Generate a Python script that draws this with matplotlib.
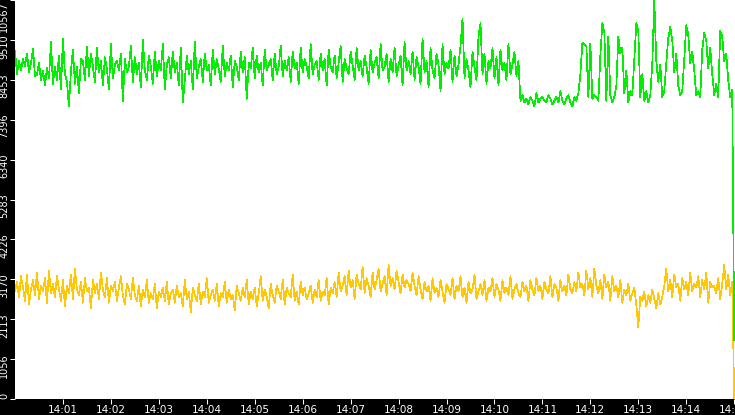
import numpy as np
import pandas as pd
import matplotlib
matplotlib.use('Agg')
from matplotlib import pyplot as plt
from matplotlib import dates as mdates
from matplotlib.transforms import ScaledTranslation

# sampled every 2.5 s starting 14:00:00
START = '2024-01-01 14:00:00'
STEP = '2500ms'

# green series (top band)
green_vals = [
    9220, 8600, 8950, 8700, 9000, 8820, 9150, 8650, 8900, 9280, 8550, 8580, 8900, 8450, 8700, 8300, 8780, 8500, 9450, 8350,
    8800, 8450, 9100, 8200, 9550, 8600, 8400, 7750, 8700, 9250, 8350, 8800, 8100, 9000, 8950, 8450, 9320, 8550, 9150, 8800,
    8400, 9300, 8650, 8950, 8300, 9050, 8750, 8200, 9400, 8500, 8850, 8950, 8700, 9150, 7900, 9000, 8650, 8800, 9350, 8400,
    9050, 8600, 8900, 8250, 9500, 8700, 8450, 9100, 8800, 8350, 9200, 8550, 8950, 8700, 9400, 8200, 8850, 9050, 8500, 9200,
    8650, 8900, 8300, 9300, 7850, 8450, 9100, 8600, 8950, 8200, 9450, 8500, 8800, 9000, 8400, 9150, 8700, 8850, 8300, 9250,
    8600, 9000, 8750, 8400, 9350, 8550, 8900, 8700, 9100, 8250, 8950, 8800, 8450, 9200, 8650, 9050, 7950, 8900, 8750, 9300,
    8500, 9100, 8650, 8900, 8300, 9250, 8700, 8850, 9000, 8450, 9150, 8600, 8800, 9350, 8550, 8950, 8700, 9050, 8400, 9200,
    8750, 8900, 8350, 9300, 8650, 9000, 8800, 8500, 9400, 8600, 8850, 8950, 8450, 9150, 8700, 9000, 8300, 9250, 8800, 8650,
    9100, 8500, 8900, 9350, 8400, 9000, 8750, 8600, 9200, 8850, 8450, 9300, 8700, 8950, 8550, 9100, 8800, 8350, 9250, 8650,
    8900, 9050, 8500, 9400, 8700, 8800, 9150, 8400, 9000, 8650, 9300, 8550, 8850, 9100, 8300, 9450, 8700, 8950, 8600, 9200,
    8450, 9050, 8800, 8350, 9550, 8650, 8950, 8250, 9300, 8700, 8500, 9150, 8850, 8150, 9400, 8600, 8900, 8750, 9250, 8400,
    9100, 8550, 8850, 9350, 10080, 8500, 9000, 8700, 8250, 9200, 8800, 8450, 9600, 9950, 8600, 9150, 8350, 8950, 8750, 9300,
    8500, 9050, 8300, 9250, 8700, 8900, 8450, 9400, 8600, 8850, 9200, 8550, 8950,
    # low flat stretch
    7900, 8050, 7850, 7950, 7800, 8000, 7900, 7750, 8100, 7850, 7950, 8000, 7900, 7850, 8050,
    7950, 7800, 7900, 8000, 7850, 8150, 7900, 7800, 7950, 8050, 7850, 7750, 8000, 7900, 8100,
    # wide swings
    8600, 9430, 9400, 9350, 8000, 9420, 7950, 8050, 8000, 7900, 9100, 9950, 9700, 7900, 9600, 8050, 7850, 8000, 8300, 9600,
    9150, 9300, 8100, 8700, 7850, 8150, 8050, 9000, 9950, 9750, 8000, 8600, 7900, 8150, 7850, 8050, 8900, 10560, 8950, 8400,
    8850, 8000, 8150, 8900, 9550, 9850, 9500, 8650, 9150, 8300, 8050, 8150, 9000, 9900, 9650, 8900, 9200, 8700, 8050, 8150,
    8000, 9250, 9700, 9500, 8750, 9300, 8600, 8050, 8350, 8000, 9750, 9600, 8950, 9150, 8450, 8000, 8200,
    1560,
]

# yellow series (bottom band)
yellow_vals = [
    2850, 3100, 2700, 3250, 2950, 2600, 3300, 2500, 2900, 3150, 2750, 3350, 2650, 3000, 2850, 3200, 2550, 3400, 2800, 3050,
    2700, 3250, 2900, 2600, 3150, 2450, 3000, 2800, 3300, 2650, 3450, 2900, 2750, 3100, 2550, 3200, 2850, 2950, 2400, 3150,
    2800, 3050, 2650, 3350, 2900, 2700, 3200, 2550, 3000, 2850, 3100, 2600, 2950, 3250, 2750, 2500, 3050, 2900, 2650, 3200,
    2750, 2600, 3000, 2450, 2900, 2700, 3150, 2550, 2800, 2650, 3050, 2400, 2850, 2700, 2950, 2600, 3100, 2500, 2800, 2900,
    2550, 3000, 2700, 2800, 2450, 3150, 2650, 2850, 2300, 2950, 2750, 2600, 3050, 2500, 2850, 2700, 3200, 2550, 2750, 2900,
    2600, 3050, 2450, 2800, 2700, 3100, 2550, 2900, 2650, 2750, 2350, 3000, 2800, 2600, 2950, 2700, 3150, 2500, 2850, 2650,
    2950, 2450, 2800, 3250, 2600, 2900, 2700, 2400, 3050, 2750, 2550, 3000, 2850, 2650, 3150, 2500, 2950, 2800, 2700, 3300,
    2600, 2850, 2500, 3100, 2750, 2950, 2650, 2800, 3000, 2550, 2900, 2700, 3150, 2600, 2850, 2750, 3200, 2500, 2950, 2800,
    3100, 2700, 3350, 2850, 3000, 3250, 2750, 3400, 2950, 3150, 2650, 3300, 3050, 2900, 3500, 2800, 3200, 3000, 2700, 3350,
    2900, 3150, 3450, 2850, 3050, 3250, 2750, 3550, 3000, 3200, 2900, 3400, 3100, 2800, 3300, 2950, 3150, 3050, 2850, 3350,
    3000, 2750, 3250, 2900, 2650, 3100, 2850, 3000, 2600, 3200, 2800, 2950, 2700, 3150, 2850, 2550, 3050, 2900, 2750, 3200,
    2650, 3000, 2850, 3250, 2700, 2950, 2550, 3100, 2800, 2900, 3300, 2650, 2850, 3050, 2750, 3150, 2600, 2950, 2850, 3200,
    2700, 3050, 2900, 2600, 3150, 2800, 2950, 2750, 3250, 2650, 2900, 3050, 2800, 2700, 3100, 2850, 3000, 2600, 3150, 2900,
    2750, 3200, 2850, 3000, 2650, 3100, 2900, 2800, 3250, 2700, 3050, 2950, 2600, 3150, 2850, 3000, 2750, 3300, 2900, 2800,
    3100, 2850, 3350, 2950, 3050, 2750, 3400, 2900, 3200, 2700, 3450, 3000, 2800, 3150, 2650, 3300, 2950, 3100, 2600, 3250,
    2850, 3000, 2700, 3150, 2550, 2900, 2750, 3050, 2600, 2800, 2950, 2500, 1900, 2700, 2600, 2850, 2450, 2750, 2550, 2900,
    2650, 2400, 2800, 2500, 2700, 3000, 3450, 2850, 3150, 2700, 3300, 2950, 3050, 2600, 3200, 2900, 3100, 2750, 3350, 2850,
    3050, 2950, 3250, 2700, 3150, 2900, 3350, 2550, 3100, 2950, 3000, 2800, 3200, 2650, 3050, 3550, 2900, 3300, 2750, 3100,
    0,
]

YTICKS = [0, 1056, 2113, 3170, 4226, 5283, 6340, 7396, 8453, 9510, 10567]

times = pd.date_range(START, periods=len(green_vals), freq=STEP)

fig = plt.figure(figsize=(7.35, 4.15), dpi=100, facecolor='black')
ax = fig.add_axes([15 / 735, 16 / 415, 720 / 735, 399 / 415])
ax.set_facecolor('white')

ax.plot(times, yellow_vals, color='#ffc800', lw=0.5, antialiased=False)
ax.plot(times, green_vals, color='#00ee00', lw=0.5, antialiased=False)

t0 = pd.Timestamp(START)
ax.set_xlim(t0, t0 + pd.Timedelta(seconds=901))
ax.set_ylim(0, 10567)

for s in ax.spines.values():
    s.set_visible(False)

ax.xaxis.set_major_locator(mdates.MinuteLocator(byminute=range(1, 16)))
ax.xaxis.set_major_formatter(mdates.DateFormatter('%H:%M'))
ax.set_yticks(YTICKS)
ax.set_yticklabels([str(v) for v in YTICKS], rotation=90, va='top')

ax.tick_params(colors='white', labelsize=7.5, length=3.6, width=0.75, pad=0.5)
ax.tick_params(axis='y', labelsize=7)

# labels sit a bit above their tick, the top one is pushed inside
for lab in ax.get_yticklabels():
    dy = 6 if lab.get_text() != '10567' else -1
    lab.set_transform(lab.get_transform() + ScaledTranslation(0, dy / 100, fig.dpi_scale_trans))

fig.savefig('out.png', dpi=100, facecolor='black')
